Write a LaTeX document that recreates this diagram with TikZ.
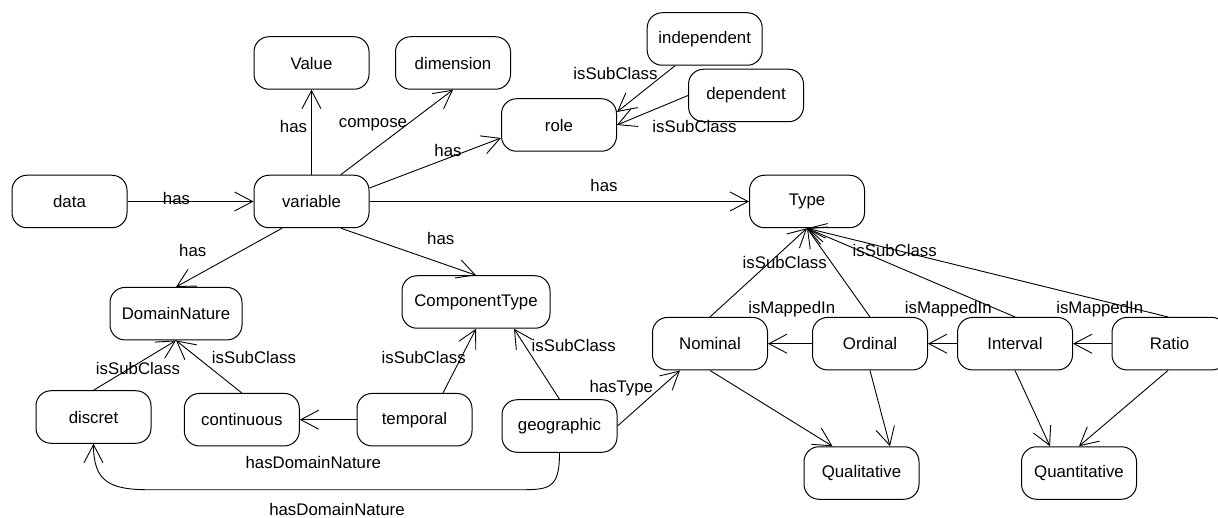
\documentclass[tikz,border=0pt]{standalone}
\usepackage{fontspec}
\setmainfont{Liberation Sans}
\usetikzlibrary{arrows.meta}
\tikzset{
  box/.style={draw, line width=1pt, rounded corners=15pt, minimum width=115pt, minimum height=52.5pt, inner sep=0pt, font=\fontsize{16.8}{19}\selectfont},
  lbl/.style={anchor=base, inner sep=0pt, font=\fontsize{16.8}{19}\selectfont},
  arr/.style={line width=0.9pt, -{Straight Barb[length=18pt,width=19pt,line width=0.9pt]}},
}
\begin{document}
\begin{tikzpicture}[x=1pt,y=-1pt]
\useasboundingbox (0,0) rectangle (1218,518);
% nodes
\node[box] (data) at (69.5,201.5) {data};
\node[box] (variable) at (311.5,201.5) {variable};
\node[box] (value) at (311.5,63) {Value};
\node[box] (dimension) at (453,63) {dimension};
\node[box] (role) at (559,125) {role};
\node[box] (independent) at (704.7,39) {independent};
\node[box] (dependent) at (746,95.5) {dependent};
\node[box] (type) at (807,201.5) {Type};
\node[box, minimum width=132pt] (domain) at (176,313.7) {DomainNature};
\node[box, minimum width=148pt] (component) at (476,302) {ComponentType};
\node[box] (discret) at (93.5,417) {discret};
\node[box] (continuous) at (241.8,419.7) {continuous};
\node[box] (temporal) at (414.5,419.7) {temporal};
\node[box] (geographic) at (559.5,426) {geographic};
\node[box] (nominal) at (710,343.7) {Nominal};
\node[box] (ordinal) at (870,343.7) {Ordinal};
\node[box] (interval) at (1015,343.7) {Interval};
\node[box] (ratio) at (1169.5,343.7) {Ratio};
\node[box] (qualitative) at (861.5,473) {Qualitative};
\node[box] (quantitative) at (1079,473) {Quantitative};
% edges
\draw[arr] (data.east) -- (variable.west);
\draw[arr] (variable.north) -- (value.south);
\draw[arr] ([xshift=29.2pt]variable.north) -- (dimension.south);
\draw[arr] ([yshift=13.5pt]variable.east) -- ([yshift=-13pt]role.west);
\draw[arr] (variable.east) -- (type.west);
\draw[arr] ([xshift=-29.5pt]variable.south) -- (domain.north);
\draw[arr] ([xshift=29.5pt]variable.south) -- (component.north);
\draw[arr] ([xshift=-29.7pt]independent.south) -- ([yshift=13pt]role.east);
\draw[arr] (dependent.west) -- (role.east);
\draw[arr] (discret.north) -- (domain.south);
\draw[arr] (continuous.north) -- (domain.south);
\draw[arr] ([xshift=28.5pt]temporal.north) -- (component.south);
\draw[arr] (geographic.north) -- ([xshift=38pt]component.south);
\draw[arr] (temporal.west) -- (continuous.east);
\draw[arr] (geographic.south) .. controls +(0,36) and +(30,0) .. ++(-40,37) -- ++(-370,0) .. controls +(-40,0) and +(0,38) .. (discret.south);
\draw[arr] (geographic.east) -- ([xshift=-30pt]nominal.south);
\draw[arr] (nominal.north) -- (type.south);
\draw[arr] (ordinal.north) -- (type.south);
\draw[arr] (interval.north) -- (type.south);
\draw[arr] ([xshift=-1.5pt]ratio.north) -- (type.south);
\draw[arr] (ordinal.west) -- (nominal.east);
\draw[arr] (interval.west) -- (ordinal.east);
\draw[arr] (ratio.west) -- (interval.east);
\draw[arr] (nominal.south) -- ([xshift=-29pt]qualitative.north);
\draw[arr] (ordinal.south) -- ([xshift=28.5pt]qualitative.north);
\draw[arr] (interval.south) -- ([xshift=-29pt]quantitative.north);
\draw[arr] ([xshift=-1.5pt]ratio.south) -- (quantitative.north);
% labels
\node[lbl] (l1) at (176.5,204.5) {has};
\node[lbl] (l2) at (293.5,133) {has};
\node[lbl] (l3) at (373,128) {compose};
\node[lbl] (l4) at (448,157) {has};
\node[lbl] (l5) at (604,192) {has};
\node[lbl] (l6) at (615.5,80) {isSubClass};
\node[lbl] (l7) at (694.5,132.5) {isSubClass};
\node[lbl] (l8) at (192.7,256.5) {has};
\node[lbl] (l9) at (440.7,245) {has};
\node[lbl] (l10) at (138,375) {isSubClass};
\node[lbl] (l11) at (254,363.3) {isSubClass};
\node[lbl] (l12) at (423.7,363.3) {isSubClass};
\node[lbl] (l13) at (573.7,351.7) {isSubClass};
\node[lbl] (l14) at (621.3,392) {hasType};
\node[lbl] (l15) at (313.3,468.3) {hasDomainNature};
\node[lbl] (l16) at (337,515) {hasDomainNature};
\node[lbl] (l17) at (784.7,268.3) {isSubClass};
\node[lbl] (l18) at (894.7,256.7) {isSubClass};
\node[lbl] (l19) at (791.7,314) {isMappedIn};
\node[lbl] (l20) at (948.3,314) {isMappedIn};
\node[lbl] (l21) at (1099.7,314) {isMappedIn};
\end{tikzpicture}
\end{document}
